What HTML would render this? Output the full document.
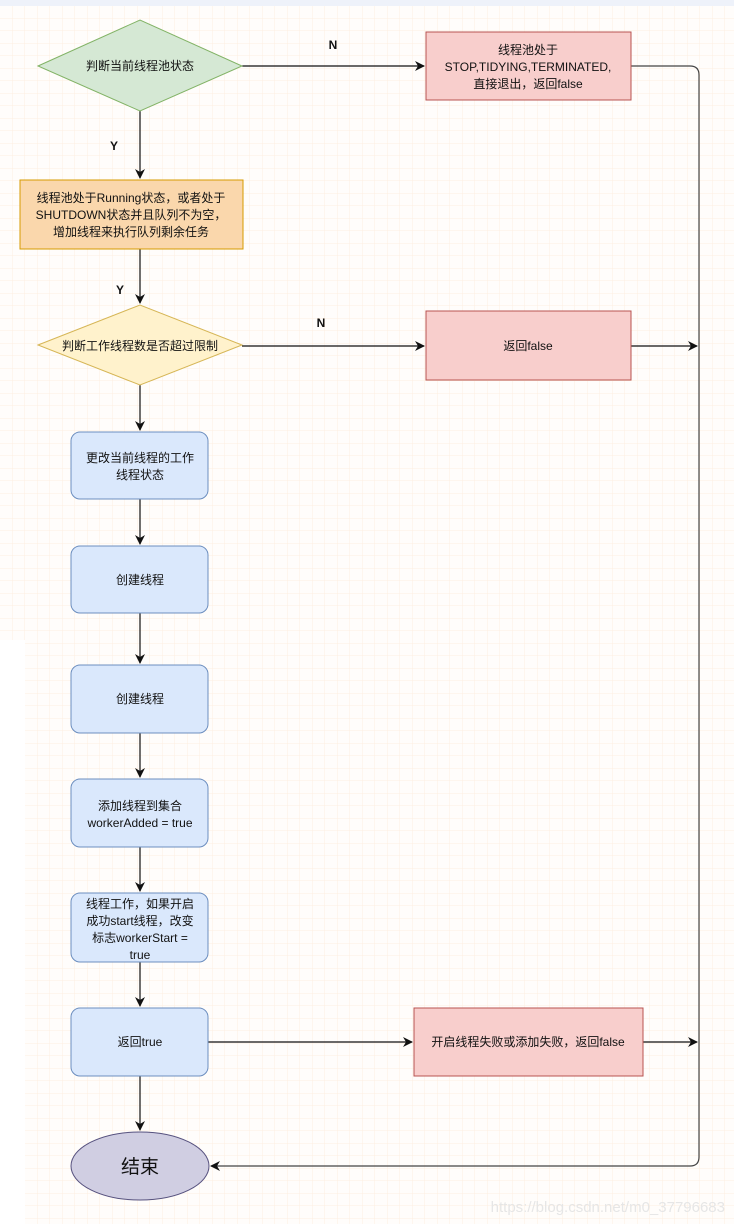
<!DOCTYPE html>
<html><head><meta charset="utf-8"><style>
html,body{margin:0;padding:0;background:#fff;}
svg{display:block;}
text{font-family:"Liberation Sans","Noto Sans CJK SC",sans-serif;font-size:12px;fill:#111;}
</style></head><body>
<svg width="734" height="1224" viewBox="0 0 734 1224" xmlns="http://www.w3.org/2000/svg">
<defs>
<pattern id="g" width="12.5" height="12.5" patternUnits="userSpaceOnUse" x="0" y="6">
<path d="M12.5 0V12.5M0 12.5H12.5" stroke="#fdeee0" stroke-width="1" fill="none"/>
</pattern>
<marker id="a" markerWidth="10" markerHeight="10" refX="9" refY="5" orient="auto" markerUnits="userSpaceOnUse">
<path d="M0,0 L10,5 L0,10 L3,5 Z" fill="#111"/>
</marker>
</defs>
<rect width="734" height="1224" fill="#fffdfb"/>
<rect width="734" height="1224" fill="url(#g)"/>
<rect x="0" y="640" width="25" height="584" fill="#fff"/>
<rect width="734" height="6" fill="#eef2fa"/>

<g stroke="#111" stroke-width="1.2" fill="none">
<path d="M140 111V178" marker-end="url(#a)"/>
<path d="M140 249V303" marker-end="url(#a)"/>
<path d="M140 385V430" marker-end="url(#a)"/>
<path d="M140 499V544" marker-end="url(#a)"/>
<path d="M140 613V663" marker-end="url(#a)"/>
<path d="M140 733V777" marker-end="url(#a)"/>
<path d="M140 847V891" marker-end="url(#a)"/>
<path d="M140 962V1006" marker-end="url(#a)"/>
<path d="M140 1076V1130" marker-end="url(#a)"/>
<path d="M242 66H424" marker-end="url(#a)"/>
<path d="M242 346H424" marker-end="url(#a)"/>
<path d="M631 346H697" marker-end="url(#a)"/>
<path d="M208 1042H412" marker-end="url(#a)"/>
<path d="M643 1042H697" marker-end="url(#a)"/>
<path d="M631 66H690Q699 66 699 75V1157Q699 1166 690 1166H211" stroke="#444" marker-end="url(#a)"/>
</g>

<polygon points="38,66 140,20 242,66 140,111" fill="#d5e8d4" stroke="#82b366"/>
<text x="140" y="70" text-anchor="middle">判断当前线程池状态</text>

<rect x="426" y="32" width="205" height="68" fill="#f8cecc" stroke="#b85450"/>
<text x="528" y="54" text-anchor="middle">线程池处于</text>
<text x="528" y="71" text-anchor="middle">STOP,TIDYING,TERMINATED,</text>
<text x="528" y="88" text-anchor="middle">直接退出，返回false</text>

<rect x="20" y="180" width="223" height="69" fill="#fad7ac" stroke="#d79b00"/>
<text x="131" y="202" text-anchor="middle">线程池处于Running状态，或者处于</text>
<text x="131" y="219" text-anchor="middle">SHUTDOWN状态并且队列不为空，</text>
<text x="131" y="236" text-anchor="middle">增加线程来执行队列剩余任务</text>

<polygon points="38,345 140,305 242,345 140,385" fill="#fff2cc" stroke="#d6b656"/>
<text x="140" y="350" text-anchor="middle">判断工作线程数是否超过限制</text>

<rect x="426" y="311" width="205" height="69" fill="#f8cecc" stroke="#b85450"/>
<text x="528" y="350" text-anchor="middle">返回false</text>

<text x="333" y="49" text-anchor="middle" font-weight="bold" style="font-weight:bold">N</text>
<text x="321" y="327" text-anchor="middle" style="font-weight:bold">N</text>
<text x="114" y="150" text-anchor="middle" style="font-weight:bold">Y</text>
<text x="120" y="294" text-anchor="middle" style="font-weight:bold">Y</text>

<g fill="#dae8fc" stroke="#6c8ebf">
<rect x="71" y="432" width="137" height="67" rx="9"/>
<rect x="71" y="546" width="137" height="67" rx="9"/>
<rect x="71" y="665" width="137" height="68" rx="9"/>
<rect x="71" y="779" width="137" height="68" rx="9"/>
<rect x="71" y="893" width="137" height="69" rx="9"/>
<rect x="71" y="1008" width="137" height="68" rx="9"/>
</g>
<text x="140" y="462" text-anchor="middle">更改当前线程的工作</text>
<text x="140" y="479" text-anchor="middle">线程状态</text>
<text x="140" y="584" text-anchor="middle">创建线程</text>
<text x="140" y="703" text-anchor="middle">创建线程</text>
<text x="140" y="810" text-anchor="middle">添加线程到集合</text>
<text x="140" y="827" text-anchor="middle">workerAdded = true</text>
<text x="140" y="908" text-anchor="middle">线程工作，如果开启</text>
<text x="140" y="925" text-anchor="middle">成功start线程，改变</text>
<text x="140" y="942" text-anchor="middle">标志workerStart =</text>
<text x="140" y="959" text-anchor="middle">true</text>
<text x="140" y="1046" text-anchor="middle">返回true</text>

<rect x="414" y="1008" width="229" height="68" fill="#f8cecc" stroke="#b85450"/>
<text x="528" y="1046" text-anchor="middle">开启线程失败或添加失败，返回false</text>

<ellipse cx="140" cy="1166" rx="69" ry="34" fill="#d0cee2" stroke="#56517e"/>
<text x="140" y="1173" text-anchor="middle" style="font-size:19px">结束</text>

<text x="725" y="1212" text-anchor="end" style="font-size:15px;fill:#e6e6e6">https://blog.csdn.net/m0_37796683</text>
</svg>
</body></html>
